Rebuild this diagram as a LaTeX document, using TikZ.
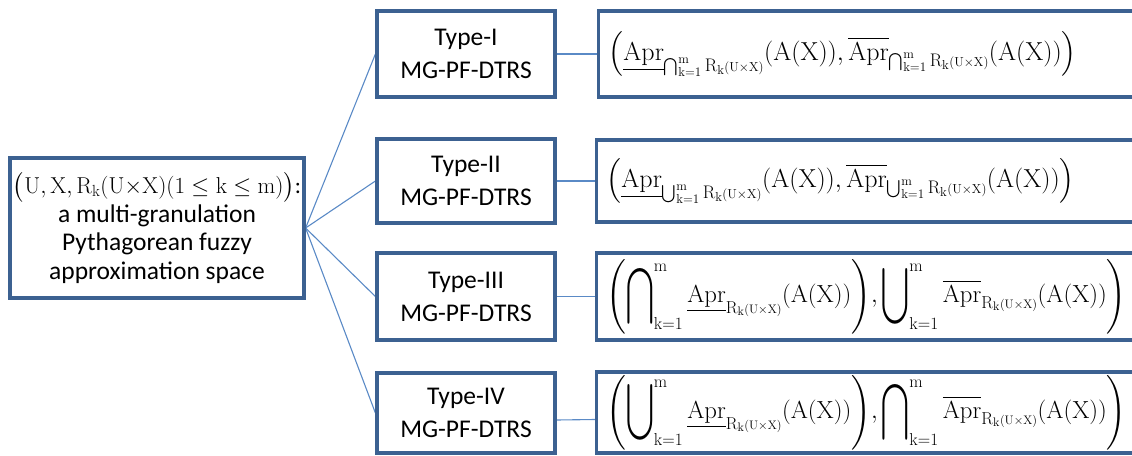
\RequirePackage{fix-cm}
\documentclass[tikz,border=0pt]{standalone}
\usepackage{amsmath}
\usepackage{graphicx}
\usepackage{fontspec}
\newfontfamily\calibri{Carlito}
\usetikzlibrary{calc,backgrounds}
\definecolor{boxblue}{HTML}{3C6191}
\definecolor{linkblue}{HTML}{5A8AC6}
\newcommand{\Rkux}{\mathrm{R}_{\mathrm{k}}{\scriptscriptstyle(\mathrm{U}{\times}\mathrm{X})}}
\newcommand{\AofX}{(\mathrm{A}(\mathrm{X}))}
\newcommand{\lowApr}{\underline{\mathrm{Apr}}}
\newcommand{\upApr}{\overline{\mathrm{Apr}}}
\newcommand{\BigCapOp}{\mathop{\vcenter{\hbox{\scalebox{1.0}[1.6]{$\displaystyle\bigcap$}}}}\nolimits}
\newcommand{\BigCupOp}{\mathop{\vcenter{\hbox{\scalebox{1.0}[1.6]{$\displaystyle\bigcup$}}}}\nolimits}
\begin{document}
\begin{tikzpicture}[x=1pt,y=-1pt,
  box/.style={draw=boxblue, line width=3.2pt, fill=white, inner sep=0pt},
  link/.style={draw=linkblue, line width=1.1pt},
  typebox/.style={box, minimum width=178pt, align=center, font=\calibri\fontsize{25.5}{33}\selectfont},
  formbox/.style={box, anchor=west, minimum width=560pt, text width=540pt, align=left, inner xsep=8pt, font=\fontsize{26}{28}\selectfont}]
\useasboundingbox (0,0) rectangle (1132,455);
\clip (0,0) rectangle (1132,455);

\node[box, minimum width=294pt, minimum height=140pt, align=center, font=\calibri\fontsize{25.5}{28.5}\selectfont] (space) at (157,228)
  {{\fontsize{23}{28.5}\selectfont$\bigl(\mathrm{U},\mathrm{X},\mathrm{R}_{\mathrm{k}}(\mathrm{U}{\times}\mathrm{X})(1\le\mathrm{k}\le\mathrm{m})\bigr)$:}\\a multi-granulation\\Pythagorean fuzzy\\approximation space};

\node[typebox, minimum height=86pt] (t1) at (466,54) {Type-I\\MG-PF-DTRS};
\node[typebox, minimum height=84pt] (t2) at (466,181) {Type-II\\MG-PF-DTRS};
\node[typebox, minimum height=87pt] (t3) at (466,296.5) {Type-III\\MG-PF-DTRS};
\node[typebox, minimum height=80pt] (t4) at (466,413) {Type-IV\\MG-PF-DTRS};

\node[formbox, minimum height=86pt] (f1) at (597,54)
  {$\Bigl(\lowApr_{\bigcap_{\mathrm{k=1}}^{\mathrm{m}}\Rkux}\AofX,\upApr_{\bigcap_{\mathrm{k=1}}^{\mathrm{m}}\Rkux}\AofX\Bigr)$};
\node[formbox, minimum height=82pt] (f2) at (595,181)
  {$\Bigl(\lowApr_{\bigcup_{\mathrm{k=1}}^{\mathrm{m}}\Rkux}\AofX,\upApr_{\bigcup_{\mathrm{k=1}}^{\mathrm{m}}\Rkux}\AofX\Bigr)$};
\node[formbox, minimum height=87pt, inner xsep=4pt, font=\fontsize{24.7}{28}\selectfont] (f3) at (595,296.5)
  {$\displaystyle\Biggl(\BigCapOp_{\mathrm{k=1}}^{\mathrm{m}}\lowApr_{\Rkux}\AofX\Biggr),\BigCupOp_{\mathrm{k=1}}^{\mathrm{m}}\upApr_{\Rkux}\AofX\Biggr)$};
\node[formbox, minimum height=81pt, inner xsep=4pt, font=\fontsize{24.7}{28}\selectfont] (f4) at (595,412.5)
  {$\displaystyle\Biggl(\BigCupOp_{\mathrm{k=1}}^{\mathrm{m}}\lowApr_{\Rkux}\AofX\Biggr),\BigCapOp_{\mathrm{k=1}}^{\mathrm{m}}\upApr_{\Rkux}\AofX\Biggr)$};

\begin{scope}[on background layer]
  \foreach \t in {t1,t2,t3,t4} \draw[link] (space.east) -- (\t.west);
  \draw[link] (t1.east) -- (f1.west);
  \draw[link] (t2.east) -- (f2.west);
  \draw[link] (t3.east) -- (f3.west);
  \draw[link] ($(t4.east)+(0,7)$) -- ($(f4.west)+(0,7)$);
\end{scope}
\end{tikzpicture}
\end{document}
